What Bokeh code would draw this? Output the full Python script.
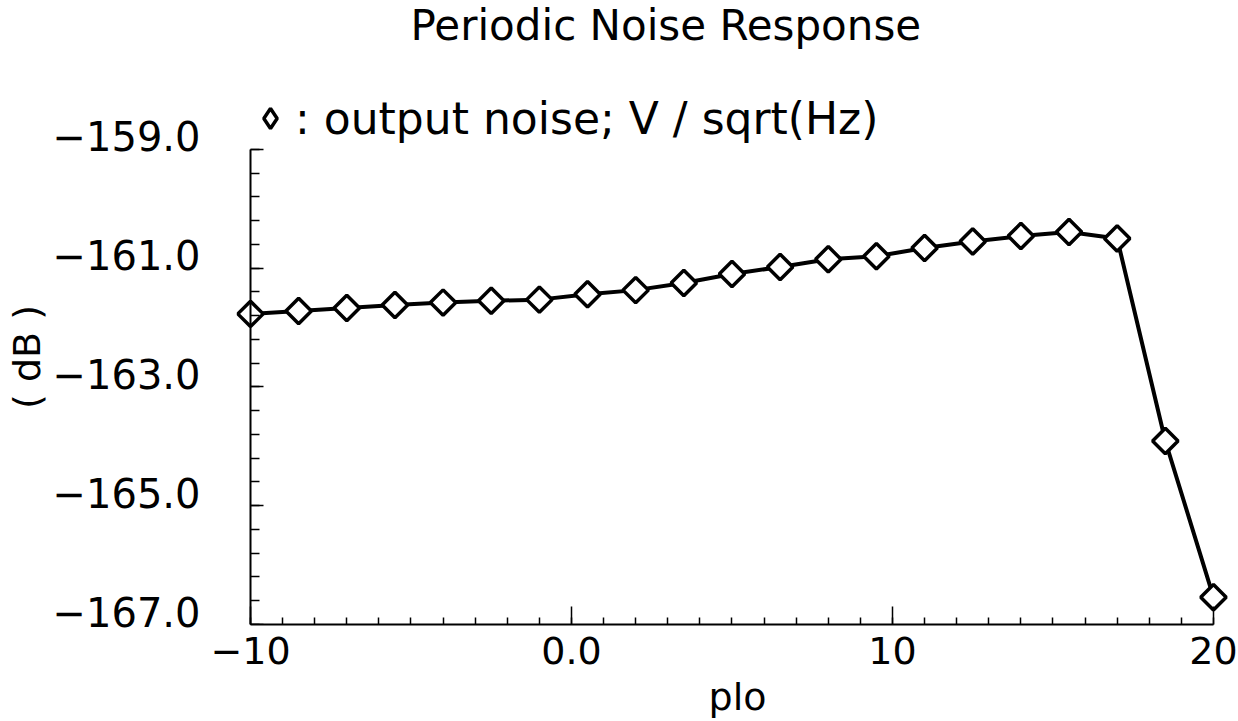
import numpy as np
from bokeh.plotting import figure
from bokeh.models import (FixedTicker, Range1d, Legend, LegendItem,
                          LinearAxis, Title)
from bokeh.embed import file_html
from bokeh.resources import INLINE

# ---- data ----
plo = [-10, -8.5, -7, -5.5, -4, -2.5, -1, 0.5, 2, 3.5, 5, 6.5, 8, 9.5,
       11, 12.5, 14, 15.5, 17, 18.5, 20]
noise_db = [-161.77, -161.72, -161.67, -161.62, -161.58, -161.55, -161.53,
            -161.44, -161.37, -161.25, -161.10, -160.98, -160.85, -160.80,
            -160.66, -160.55, -160.46, -160.39, -160.50, -163.91, -166.54]

x_ticks = [-10, 0, 10, 20]
x_tick_labels = ["\u221210", "0.0", "10", "20"]
y_ticks = [-167, -165, -163, -161, -159]
y_tick_labels = ["\u2212167.0", "\u2212165.0", "\u2212163.0", "\u2212161.0", "\u2212159.0"]

title_text = "Periodic Noise Response"
legend_text = ": output noise; V / sqrt(Hz)"
x_label = "plo"
y_label = "( dB )"

FONT = "DejaVu Sans"

Y0, Y1 = -167, -157.992     # frame extends above the axis top for the legend
LABEL_SHIFT = 0.218         # tick labels sit slightly above their ticks

# frame slightly larger than the axes so edge markers and the legend are not clipped
p = figure(width=1238, height=721, title=None,
           x_range=Range1d(-10.436, 20.78), y_range=Range1d(Y0, Y1),
           output_backend="svg", toolbar_location=None,
           min_border_left=236, min_border_right=0,
           min_border_top=88, min_border_bottom=97,
           background_fill_color="white", border_fill_color="white")
p.outline_line_color = None
p.grid.visible = False
p.extra_y_ranges = {"labels": Range1d(Y0 - LABEL_SHIFT, Y1 - LABEL_SHIFT)}

line_r = p.line(plo, noise_db, line_color="black", line_width=4)
sc = p.scatter(plo, noise_db, marker="square", angle=np.pi / 4, size=18,
               fill_color="white", line_color="black", line_width=3.5)
# hidden renderer used only for the legend glyph
leg_r = p.scatter(plo, noise_db, marker="diamond", size=24,
                  fill_color="white", line_color="black", line_width=3.5,
                  visible=False)

# x axis
xa = p.xaxis[0]
xa.ticker = FixedTicker(ticks=x_ticks, minor_ticks=list(np.arange(-10, 20.5, 1.0)))
xa.major_label_overrides = {float(t): l for t, l in zip(x_ticks, x_tick_labels)}
xa.bounds = (-10, 20)

# y axis line + ticks, fixed at x = -10
ya = p.yaxis[0]
ya.ticker = FixedTicker(ticks=y_ticks, minor_ticks=list(np.arange(-167, -158.9, 0.4)))
ya.major_label_overrides = {float(t): "" for t in y_ticks}
ya.bounds = (-167, -159)
ya.fixed_location = -10
ya.major_label_standoff = 0

# y axis labels (label-only axis in the left panel)
ya2 = LinearAxis(y_range_name="labels", ticker=FixedTicker(ticks=y_ticks),
                 major_label_overrides={float(t): l for t, l in zip(y_ticks, y_tick_labels)},
                 bounds=(-167, -159), axis_line_color=None,
                 major_tick_line_color=None, minor_tick_line_color=None,
                 major_tick_in=0, major_tick_out=0, minor_tick_in=0, minor_tick_out=0,
                 axis_label=y_label)
p.add_layout(ya2, "left")

for ax in (xa, ya, ya2):
    ax.major_label_text_font = FONT
    ax.major_label_text_font_size = "38px"
    ax.major_label_text_color = "black"
    ax.axis_label_text_font = FONT
    ax.axis_label_text_font_size = "38px"
    ax.axis_label_text_font_style = "normal"
    ax.axis_label_text_color = "black"
ya2.major_label_text_font_size = "40px"

for ax in (xa, ya):
    ax.axis_line_color = "black"
    ax.axis_line_width = 2
    ax.major_tick_line_color = "black"
    ax.minor_tick_line_color = "black"
    ax.major_tick_line_width = 1.5
    ax.minor_tick_line_width = 1.5
    ax.major_tick_out = 0
    ax.minor_tick_out = 0

xa.major_tick_in = 18
xa.minor_tick_in = 7
ya.major_tick_in = 13
ya.minor_tick_in = 9
xa.major_label_standoff = 12
xa.axis_label = x_label
xa.axis_label_standoff = 8
ya2.major_label_standoff = 36
ya2.axis_label_standoff = 0

# legend just above the axes (inside the enlarged frame)
legend = Legend(items=[LegendItem(label=legend_text, renderers=[leg_r])],
                location=(9, 476), orientation="horizontal",
                glyph_width=50, glyph_height=60, label_standoff=0,
                padding=0, margin=0, spacing=0,
                border_line_color=None, background_fill_alpha=0,
                inactive_fill_alpha=0,
                label_text_font=FONT, label_text_font_size="44px",
                label_text_color="black")
p.add_layout(legend, "center")

# spacer (nearest the frame), then the main title above it
p.add_layout(Title(text=" ", text_font_size="24px", standoff=9), "above")
p.add_layout(Title(text=title_text, align="left", offset=174,
                   vertical_align="top", standoff=0,
                   text_font=FONT, text_font_size="42px",
                   text_font_style="normal", text_color="black"), "above")

open("out.html", "w").write(file_html(p, INLINE))
